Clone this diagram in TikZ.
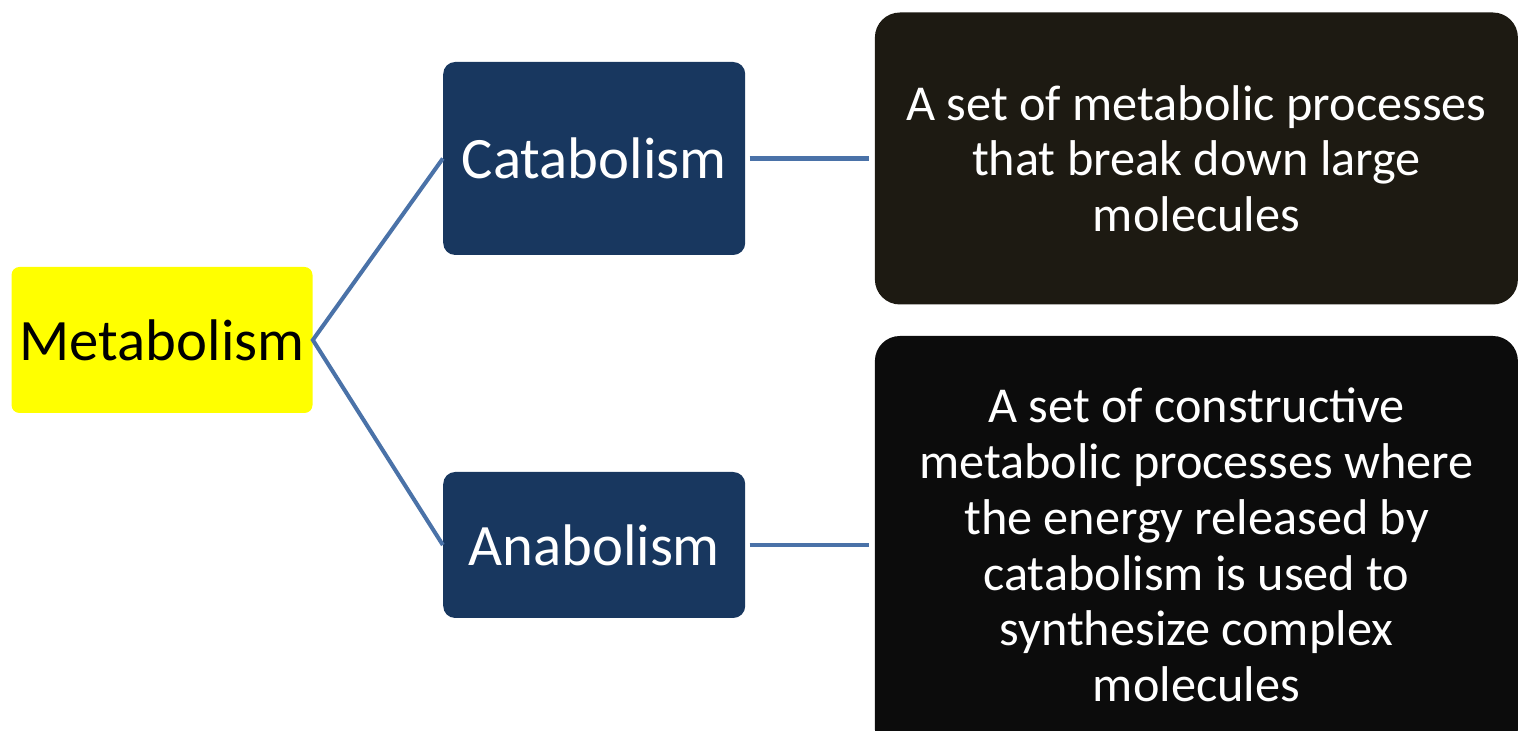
\documentclass[tikz,border=0pt]{standalone}
\usepackage{fontspec}
\setmainfont{Carlito}
\usepackage{xcolor}
\usepackage{tikz}
\usetikzlibrary{positioning}
\definecolor{MetaYellow}{HTML}{FFFF00}
\definecolor{MetaNavy}{HTML}{18375F}
\definecolor{MetaBrown}{HTML}{1D1A12}
\definecolor{MetaBlack}{HTML}{0C0C0C}
\definecolor{MetaLine}{HTML}{4A72A8}
\tikzset{
    rootbox/.style={rectangle, rounded corners=0.16cm, minimum width=6.02cm, minimum height=2.92cm,
        text centered, fill=MetaYellow, text=black, font=\fontsize{33.4}{40}\selectfont},
    termbox/.style={rectangle, rounded corners=0.24cm, minimum width=6.04cm,
        text centered, fill=MetaNavy, text=white, font=\fontsize{33.4}{40}\selectfont},
    descbox/.style={rectangle, rounded corners=0.5cm, minimum width=12.86cm, inner sep=0pt,
        align=center, text=white, font=\fontsize{28.6}{31.7}\selectfont},
    linkline/.style={line width=2.3pt, MetaLine},
}
\begin{document}
\begin{tikzpicture}
    \useasboundingbox (0,0) rectangle (30.38,-14.62);
    % Use relative positioning for the branches
    \node[rootbox] (metab) at (3.24,-6.8) {Metabolism};
    \node[termbox, minimum height=3.86cm, right=2.6cm of metab, yshift=3.63cm] (cata) {Catabolism};
    \node[termbox, minimum height=2.92cm, right=2.6cm of metab, yshift=-4.1cm] (ana) {Anabolism};

    \node[descbox, fill=MetaBrown, minimum height=5.84cm, right=2.58cm of cata] (catadesc)
        {A set of metabolic processes\\that break down large\\molecules};
    \node[descbox, fill=MetaBlack, minimum height=8.36cm, right=2.58cm of ana] (anadesc)
        {A set of constructive\\metabolic processes where\\the energy released by\\catabolism is used to\\synthesize complex\\molecules};

    \draw[linkline] (cata.west) -- (metab.east) -- (ana.west);
    \draw[linkline, shorten <=0.08cm, shorten >=0.12cm] (cata) -- (catadesc);
    \draw[linkline, shorten <=0.08cm, shorten >=0.12cm] (ana) -- (anadesc);
\end{tikzpicture}
\end{document}
